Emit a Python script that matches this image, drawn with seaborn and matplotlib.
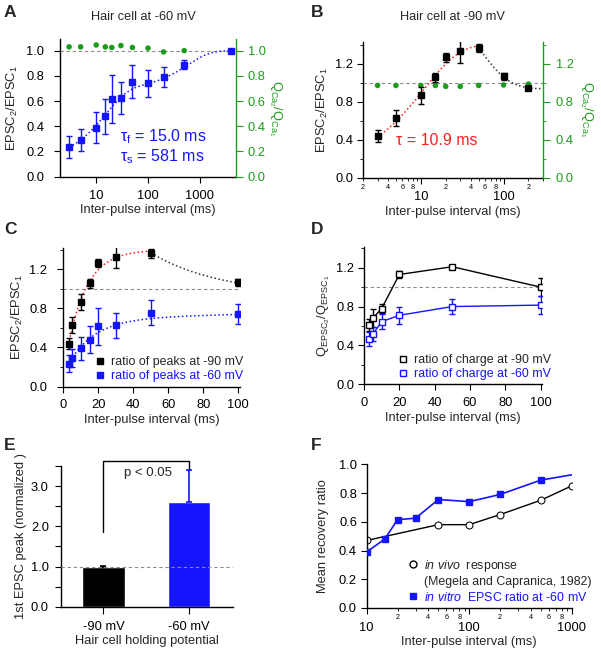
import numpy as np
import pandas as pd
import matplotlib
matplotlib.use("Agg")
import matplotlib.pyplot as plt
import matplotlib.ticker as mtick
from matplotlib.lines import Line2D
import seaborn as sns

# ---- data ----
# panel A / C / F : hair cell at -60 mV
ipi_60 = [3, 5, 10, 15, 20, 30, 50, 100, 200, 500, 4000]
peak_60 = [0.235, 0.29, 0.39, 0.48, 0.615, 0.625, 0.755, 0.74, 0.79, 0.89, 1.0]
peak_60_err = [0.09, 0.09, 0.12, 0.14, 0.19, 0.13, 0.13, 0.105, 0.08, 0.035, 0.01]
qca_60 = [1.03, 1.03, 1.045, 1.03, 1.025, 1.04, 1.025, 1.02, 0.99, 1.0, 1.0]

# panel B / C : hair cell at -90 mV
ipi_90 = [3, 5, 10, 15, 20, 30, 50, 100, 200]
peak_90 = [0.44, 0.63, 0.865, 1.055, 1.265, 1.33, 1.365, 1.065, 0.94]
peak_90_err = [0.06, 0.085, 0.085, 0.045, 0.045, 0.12, 0.045, 0.035, 0.015]
qca_90 = [0.97, 0.97, 0.97, 0.97, 0.96, 0.96, 0.97, 0.975, 0.985]

# fit parameters
tau_f, tau_s = 15.0, 581.0
amp_f, amp_s = 0.56, 0.31
tau_rise, rise_max, rise_amp = 10.9, 1.40, 1.28
decay_base, decay_amp, tau_decay = 0.935, 0.435, 40.0

# panel D : charge ratios
ipi_q = [3, 5, 10, 20, 50, 100]
q_90 = [0.61, 0.68, 0.78, 1.13, 1.21, 1.0]
q_90_err = [0.06, 0.09, 0.05, 0.04, 0.02, 0.09]
q_60 = [0.465, 0.515, 0.645, 0.71, 0.80, 0.815]
q_60_err = [0.07, 0.07, 0.08, 0.09, 0.08, 0.095]

# panel E
holding = ["-90 mV", "-60 mV"]
first_peak = [1.0, 2.6]
first_peak_err = [0.01, 0.8]
bracket_y = [1.87, 3.63, 3.63, 3.40]

# panel F : in vivo (Megela and Capranica, 1982)
ipi_vivo = [10, 50, 100, 200, 500, 1000]
recovery_vivo = [0.47, 0.58, 0.58, 0.65, 0.75, 0.85]

BLUE = "#1414ff"
RED = "#ff1e1e"
GREEN = "#1c9c1c"
GREY = "#8c8c8c"
FS = 9.3

sns.set_style("ticks")
plt.rcParams["font.family"] = ["Liberation Sans", "DejaVu Sans"]
plt.rcParams.update({
    "mathtext.fontset": "custom",
    "mathtext.rm": "Liberation Sans",
    "mathtext.it": "Liberation Sans:italic",
    "mathtext.bf": "Liberation Sans:bold",
    "axes.edgecolor": "black",
    "axes.linewidth": 1.0,
    "xtick.color": "black",
    "ytick.color": "black",
    "xtick.major.size": 4.3,
    "ytick.major.size": 4.0,
    "xtick.minor.size": 2.4,
    "ytick.minor.size": 2.4,
    "xtick.major.pad": 5.0,
    "font.size": FS,
    "xtick.labelsize": FS,
    "ytick.labelsize": FS,
    "axes.labelsize": FS,
})

W, H = 601, 653
fig = plt.figure(figsize=(W / 100, H / 100), dpi=100)


def add_ax(l, r, t, b):
    return fig.add_axes([l / W, 1 - b / H, (r - l) / W, (b - t) / H])


def clean(ax):
    ax.spines["top"].set_visible(False)
    ax.spines["right"].set_visible(False)


def minor_lab(v, pos):
    m = int(round(v / 10 ** np.floor(np.log10(v) + 1e-9)))
    return str(m) if m in (2, 4, 6, 8) else ""


def green_axis(ax, label, major, minor, pad, lpad):
    axr = ax.twinx()
    axr.set_ylim(ax.get_ylim())
    for s in ["top", "left", "bottom"]:
        axr.spines[s].set_visible(False)
    axr.spines["right"].set_color(GREEN)
    axr.yaxis.set_major_locator(mtick.MultipleLocator(major))
    if minor:
        axr.yaxis.set_minor_locator(mtick.MultipleLocator(minor))
    axr.yaxis.set_major_formatter(mtick.FormatStrFormatter("%.1f"))
    axr.tick_params(axis="y", which="both", colors=GREEN, labelcolor=GREEN,
                    direction="out", pad=pad)
    axr.tick_params(axis="y", which="major", length=4.8)
    axr.set_ylabel(label, color=GREEN, rotation=-90, va="bottom", labelpad=lpad)
    return axr


t_fast = np.geomspace(3, 4000, 300)
fit_60 = 1 - amp_f * np.exp(-t_fast / tau_f) - amp_s * np.exp(-t_fast / tau_s)
t_rise = np.geomspace(3, 50, 200)
fit_rise = rise_max - rise_amp * np.exp(-t_rise / tau_rise)
t_dec = np.geomspace(50, 300, 200)
fit_dec = decay_base + decay_amp * np.exp(-(t_dec - 50) / tau_decay)

# ---------------- A ----------------
ax = add_ax(60, 236, 39.3, 176.7)
clean(ax)
ax.set_xscale("log")
ax.set_xlim(2, 5000)
ax.set_ylim(0, 1.09)
ax.axhline(1.0, color=GREY, ls="--", lw=0.8, dashes=(3, 2.5), zorder=1)
sns.scatterplot(x=ipi_60, y=qca_60, ax=ax, color=GREEN, s=16, edgecolor="none", zorder=2)
ax.plot(t_fast, fit_60, ls=":", color=BLUE, lw=1.1, zorder=3)
ax.errorbar(ipi_60, peak_60, yerr=peak_60_err, fmt="s", color=BLUE, ms=4.2,
            capsize=2.5, elinewidth=1, capthick=1, zorder=4)
ax.xaxis.set_major_locator(mtick.FixedLocator([10, 100, 1000]))
ax.xaxis.set_minor_locator(mtick.NullLocator())
ax.xaxis.set_major_formatter(mtick.FuncFormatter(lambda v, p: f"{v:g}"))
ax.yaxis.set_major_locator(mtick.MultipleLocator(0.2))
ax.yaxis.set_major_formatter(mtick.FormatStrFormatter("%.1f"))
ax.tick_params(axis="y", pad=7.5)
ax.set_xlabel("Inter-pulse interval (ms)", labelpad=2)
ax.set_ylabel("EPSC$_2$/EPSC$_1$", labelpad=4)
ax.text(0.34, 0.29, "τ$_\\mathrm{f}$ = 15.0 ms", transform=ax.transAxes, color=BLUE,
        fontsize=11.5, va="center")
ax.text(0.34, 0.145, "τ$_\\mathrm{s}$ = 581 ms", transform=ax.transAxes, color=BLUE,
        fontsize=11.5, va="center")
green_axis(ax, "Q$_{\\mathrm{Ca}_2}$/Q$_{\\mathrm{Ca}_1}$", 0.2, None, 3.5, 1)

# ---------------- B ----------------
ax = add_ax(363, 543, 41.7, 177.7)
clean(ax)
ax.set_xscale("log")
ax.set_xlim(2, 300)
ax.set_ylim(0, 1.43)
ax.axhline(1.0, color=GREY, ls="--", lw=0.8, dashes=(3, 2.5), zorder=1)
sns.scatterplot(x=ipi_90, y=qca_90, ax=ax, color=GREEN, s=16, edgecolor="none", zorder=2)
ax.plot(t_rise, fit_rise, ls=":", color=RED, lw=1.1, zorder=3)
ax.plot(t_dec, fit_dec, ls=":", color="#333333", lw=1.1, zorder=3)
ax.errorbar(ipi_90, peak_90, yerr=peak_90_err, fmt="s", color="black", ms=4.2,
            capsize=2.5, elinewidth=1, capthick=1, zorder=4)
ax.xaxis.set_major_locator(mtick.LogLocator(10))
ax.xaxis.set_minor_locator(mtick.LogLocator(10, subs=range(2, 10)))
ax.xaxis.set_major_formatter(mtick.FuncFormatter(lambda v, p: f"{v:g}"))
ax.xaxis.set_minor_formatter(mtick.FuncFormatter(minor_lab))
ax.tick_params(axis="x", which="minor", labelsize=5.2, pad=2)
ax.tick_params(axis="x", which="major", pad=5.5)
ax.yaxis.set_major_locator(mtick.MultipleLocator(0.4))
ax.yaxis.set_minor_locator(mtick.MultipleLocator(0.2))
ax.yaxis.set_major_formatter(mtick.FormatStrFormatter("%.1f"))
ax.tick_params(axis="y", pad=3)
ax.set_xlabel("Inter-pulse interval (ms)", labelpad=2)
ax.set_ylabel("EPSC$_2$/EPSC$_1$", labelpad=4)
ax.text(0.185, 0.277, "τ = 10.9 ms", transform=ax.transAxes, color=RED,
        fontsize=11.5, va="center")
green_axis(ax, "Q$_{\\mathrm{Ca}_2}$/Q$_{\\mathrm{Ca}_1}$", 0.4, 0.2, 4.5, 3)

# ---------------- C ----------------
ax = add_ax(63.3, 240, 248.3, 386.5)
clean(ax)
ax.set_xlim(0, 101)
ax.set_ylim(0, 1.415)
ax.axhline(1.0, color=GREY, ls="--", lw=0.8, dashes=(3, 2.5), zorder=1)
t_c = np.linspace(3, 100, 300)
ax.plot(t_c, 1 - amp_f * np.exp(-t_c / tau_f) - amp_s * np.exp(-t_c / tau_s),
        ls=":", color=BLUE, lw=1.1, zorder=2)
t_cr = np.linspace(3, 50, 200)
ax.plot(t_cr, rise_max - rise_amp * np.exp(-t_cr / tau_rise), ls=":", color=RED, lw=1.1, zorder=2)
t_cd = np.linspace(50, 100, 100)
ax.plot(t_cd, decay_base + decay_amp * np.exp(-(t_cd - 50) / tau_decay), ls=":",
        color="#333333", lw=1.1, zorder=2)
ax.errorbar(ipi_90[:8], peak_90[:8], yerr=peak_90_err[:8], fmt="s", color="black", ms=4.2,
            capsize=2.5, elinewidth=1, capthick=1, zorder=4)
ax.errorbar(ipi_60[:8], peak_60[:8], yerr=peak_60_err[:8], fmt="s", color=BLUE, ms=4.2,
            capsize=2.5, elinewidth=1, capthick=1, zorder=4)
ax.xaxis.set_major_locator(mtick.MultipleLocator(20))
ax.yaxis.set_major_locator(mtick.MultipleLocator(0.4))
ax.yaxis.set_minor_locator(mtick.MultipleLocator(0.2))
ax.yaxis.set_major_formatter(mtick.FormatStrFormatter("%.1f"))
ax.tick_params(axis="y", pad=7.5)
ax.set_xlabel("Inter-pulse interval (ms)", labelpad=2)
ax.set_ylabel("EPSC$_2$/EPSC$_1$", labelpad=3)
hs = [Line2D([], [], marker="s", ls="none", color="black", ms=4.2),
      Line2D([], [], marker="s", ls="none", color=BLUE, ms=4.2)]
leg = ax.legend(hs, ["ratio of peaks at -90 mV", "ratio of peaks at -60 mV"],
                loc="lower left", bbox_to_anchor=(0.18, 0.03), frameon=False,
                handlelength=0.8, handletextpad=0.5, labelspacing=0.15,
                borderpad=0, borderaxespad=0, fontsize=8.9)
leg.get_texts()[1].set_color(BLUE)

# ---------------- D ----------------
ax = add_ax(364, 541.5, 246.7, 384.3)
clean(ax)
ax.set_xlim(0, 100.5)
ax.set_ylim(0, 1.416)
ax.axhline(1.0, color=GREY, ls="--", lw=0.8, dashes=(3, 2.5), zorder=1)
ax.errorbar(ipi_q, q_90, yerr=q_90_err, fmt="-s", color="black", mfc="white", ms=4.2,
            lw=1, capsize=2.5, elinewidth=1, capthick=1, zorder=3)
ax.errorbar(ipi_q, q_60, yerr=q_60_err, fmt="-s", color=BLUE, mfc="white", ms=4.2,
            lw=1, capsize=2.5, elinewidth=1, capthick=1, zorder=3)
ax.xaxis.set_major_locator(mtick.MultipleLocator(20))
ax.yaxis.set_major_locator(mtick.MultipleLocator(0.4))
ax.yaxis.set_minor_locator(mtick.MultipleLocator(0.2))
ax.yaxis.set_major_formatter(mtick.FormatStrFormatter("%.1f"))
ax.tick_params(axis="y", pad=3)
ax.set_xlabel("Inter-pulse interval (ms)", labelpad=2)
ax.set_ylabel("Q$_{\\mathrm{EPSC}_2}$/Q$_{\\mathrm{EPSC}_1}$", labelpad=3)
hs = [Line2D([], [], marker="s", ls="none", color="black", mfc="white", ms=4.2),
      Line2D([], [], marker="s", ls="none", color=BLUE, mfc="white", ms=4.2)]
leg = ax.legend(hs, ["ratio of charge at -90 mV", "ratio of charge at -60 mV"],
                loc="lower left", bbox_to_anchor=(0.19, 0.03), frameon=False,
                handlelength=0.8, handletextpad=0.5, labelspacing=0.15,
                borderpad=0, borderaxespad=0, fontsize=8.9)
leg.get_texts()[1].set_color(BLUE)

# ---------------- E ----------------
ax = add_ax(60.7, 233.3, 466, 606.7)
clean(ax)
sns.barplot(x=holding, y=first_peak, hue=holding, palette=["black", BLUE], width=0.5,
            saturation=1, legend=False, ax=ax, zorder=2)
for i, c in enumerate(["black", BLUE]):
    ax.errorbar([i], [first_peak[i]], yerr=[[0], [first_peak_err[i]]], fmt="none",
                ecolor=c, elinewidth=1.2, capsize=2.5, capthick=1.2, zorder=3)
ax.set_xlim(-0.5, 1.52)
ax.set_ylim(0, 3.5)
ax.axhline(1.0, color=GREY, ls="--", lw=0.8, dashes=(3, 2.5), zorder=4)
ax.plot([0, 0, 1, 1], bracket_y, color="black", lw=1, clip_on=False)
ax.text(0.52, 3.33, "p < 0.05", ha="center", va="center", fontsize=9.5)
ax.yaxis.set_major_locator(mtick.MultipleLocator(0.5))
ax.yaxis.set_major_formatter(mtick.FuncFormatter(
    lambda v, p: f"{v:.1f}" if abs(v - round(v)) < 1e-6 else ""))
ax.tick_params(axis="y", pad=4.5)
ax.tick_params(axis="x", length=5)
ax.set_xlabel("Hair cell holding potential", labelpad=1.5)
ax.set_ylabel("1st EPSC peak (normalized )", labelpad=3)

# ---------------- F ----------------
ax = add_ax(366.7, 571.7, 464.3, 608)
clean(ax)
ax.set_xscale("log")
ax.set_xlim(10, 1000)
ax.set_ylim(0, 1.0)
sns.lineplot(x=ipi_vivo, y=recovery_vivo, ax=ax, color="black", lw=1, marker="o",
             markerfacecolor="white", markeredgecolor="black", markersize=5, zorder=2)
ax.plot(ipi_60, peak_60, "-s", color=BLUE, lw=1.2, ms=4.5, zorder=3)
ax.xaxis.set_major_locator(mtick.LogLocator(10))
ax.xaxis.set_minor_locator(mtick.LogLocator(10, subs=range(2, 10)))
ax.xaxis.set_major_formatter(mtick.FuncFormatter(lambda v, p: f"{v:g}"))
ax.xaxis.set_minor_formatter(mtick.FuncFormatter(minor_lab))
ax.tick_params(axis="x", which="minor", labelsize=5.2, pad=2)
ax.tick_params(axis="x", which="major", pad=5.5)
ax.yaxis.set_major_locator(mtick.MultipleLocator(0.2))
ax.yaxis.set_major_formatter(mtick.FormatStrFormatter("%.1f"))
ax.tick_params(axis="y", pad=3)
ax.set_xlabel("Inter-pulse interval (ms)", labelpad=2)
ax.set_ylabel("Mean recovery ratio", labelpad=7)
hs = [Line2D([], [], marker="o", ls="none", color="black", mfc="white", ms=5),
      Line2D([], [], ls="none"),
      Line2D([], [], marker="s", ls="none", color=BLUE, ms=4.5)]
leg = ax.legend(hs, ["$\\it{in\\ vivo}$  response", "(Megela and Capranica, 1982)",
                     "$\\it{in\\ vitro}$  EPSC ratio at -60 mV"],
                loc="lower left", bbox_to_anchor=(0.2, 0.03), frameon=False,
                handlelength=0.8, handletextpad=0.5, labelspacing=0.2,
                borderpad=0, borderaxespad=0, fontsize=8.9)
leg.get_texts()[2].set_color(BLUE)

# ---- titles and panel letters ----
fig.text(143 / W, 1 - 17 / H, "Hair cell at -60 mV", ha="center", va="center", fontsize=9.2)
fig.text(452 / W, 1 - 17 / H, "Hair cell at -90 mV", ha="center", va="center", fontsize=9.2)
for letter, (x, y) in zip("ABCDEF", [(4, 5), (311, 5), (4, 222), (311, 222), (4, 438), (311, 438)]):
    fig.text(x / W, 1 - y / H, letter, fontsize=12.5, fontweight="bold", va="top")

fig.savefig("out.png", dpi=100)
